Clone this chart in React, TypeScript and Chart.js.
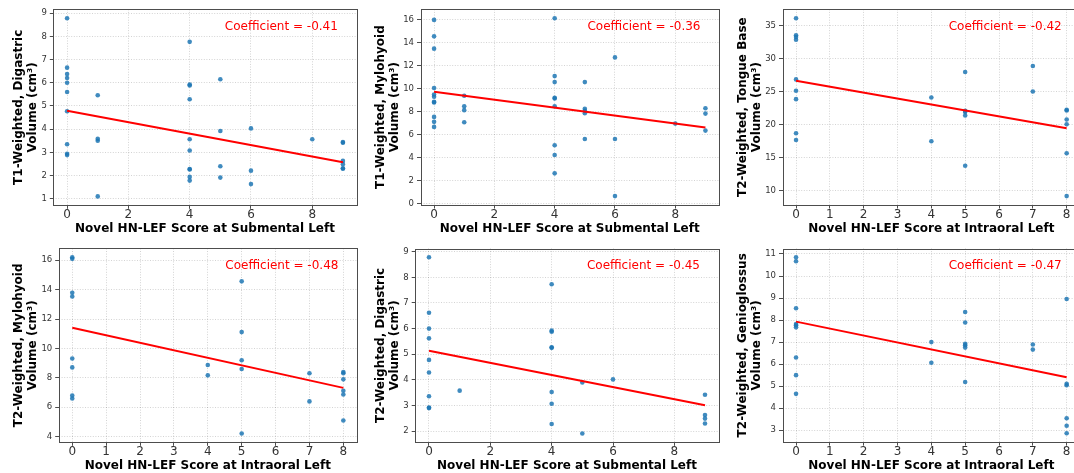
import React, { useEffect, useRef } from "react";
import { Chart, registerables } from "chart.js";

Chart.register(...registerables);

// ---------- Data ----------
// Panel 1: T1-weighted digastric vs submental-left score
const p1Scores = [0, 0, 0, 0, 0, 0, 0, 0, 0, 0, 1, 1, 1, 1, 4, 4, 4, 4, 4, 4, 4, 4, 4, 4, 5, 5, 5, 5, 6, 6, 6, 8, 9, 9, 9, 9, 9, 9];
const p1Volumes = [8.78, 6.65, 6.37, 6.2, 6.0, 5.6, 4.77, 3.35, 2.94, 2.88, 5.46, 3.58, 3.5, 1.1, 7.76, 5.92, 5.88, 5.29, 3.56, 3.08, 2.28, 2.26, 1.94, 1.78, 6.15, 3.92, 2.4, 1.91, 4.03, 2.21, 1.63, 3.56, 3.44, 3.41, 2.63, 2.49, 2.31, 2.29];

// Panel 2: T1-weighted mylohyoid vs submental-left score
const p2Scores = [0, 0, 0, 0, 0, 0, 0, 0, 0, 0, 0, 1, 1, 1, 1, 4, 4, 4, 4, 4, 4, 4, 4, 4, 5, 5, 5, 5, 5, 6, 6, 6, 8, 9, 9, 9];
const p2Volumes = [16.0, 14.57, 13.5, 10.07, 9.51, 9.31, 8.87, 8.81, 7.56, 7.13, 6.69, 9.4, 8.49, 8.15, 7.1, 16.15, 11.11, 10.59, 9.22, 9.16, 8.49, 5.09, 4.25, 2.65, 10.59, 8.26, 8.09, 7.88, 5.64, 12.74, 5.64, 0.67, 6.98, 8.32, 7.85, 6.37];

// Panel 3: T2-weighted tongue base vs intraoral-left score
const p3Scores = [0, 0, 0, 0, 0, 0, 0, 0, 0, 4, 4, 5, 5, 5, 5, 5, 7, 7, 8, 8, 8, 8, 8, 8];
const p3Volumes = [36.17, 33.58, 33.32, 32.9, 26.87, 25.14, 23.87, 18.69, 17.67, 24.13, 17.47, 27.99, 22.1, 21.9, 21.38, 13.76, 28.9, 25.04, 22.25, 22.15, 20.77, 20.06, 15.64, 9.14];

// Panel 4: T2-weighted mylohyoid vs intraoral-left score
const p4Scores = [0, 0, 0, 0, 0, 0, 0, 0, 4, 4, 5, 5, 5, 5, 5, 7, 7, 8, 8, 8, 8, 8, 8];
const p4Volumes = [16.2, 16.09, 13.78, 13.53, 9.32, 8.71, 6.8, 6.6, 8.87, 8.17, 14.56, 11.11, 9.2, 8.6, 4.22, 8.31, 6.4, 8.4, 8.31, 7.9, 7.12, 6.87, 5.1];

// Panel 5: T2-weighted digastric vs submental-left score
const p5Scores = [0, 0, 0, 0, 0, 0, 0, 0, 0, 1, 4, 4, 4, 4, 4, 4, 4, 4, 5, 5, 6, 9, 9, 9, 9];
const p5Volumes = [8.78, 6.62, 6.0, 5.62, 4.78, 4.29, 3.36, 2.92, 2.9, 3.58, 7.73, 5.92, 5.88, 5.27, 5.25, 3.53, 3.07, 2.28, 3.9, 1.91, 4.02, 3.42, 2.63, 2.49, 2.3];

// Panel 6: T2-weighted genioglossus vs intraoral-left score
const p6Scores = [0, 0, 0, 0, 0, 0, 0, 0, 0, 4, 4, 5, 5, 5, 5, 5, 5, 7, 7, 8, 8, 8, 8, 8, 8];
const p6Volumes = [10.85, 10.67, 8.54, 7.82, 7.76, 7.67, 6.3, 5.5, 4.65, 7.0, 6.06, 8.37, 7.89, 6.92, 6.86, 6.75, 5.19, 6.89, 6.66, 8.96, 5.11, 5.04, 3.54, 3.2, 2.86];

// Fitted regression line: value at score 0 and at the highest score
const fitStart = [4.79, 9.76, 26.65, 11.4, 5.14, 7.93];
const fitEnd = [2.57, 6.64, 19.45, 7.32, 3.01, 5.4];
const coefficients = ["-0.41", "-0.36", "-0.42", "-0.48", "-0.45", "-0.47"];

const yTitleTop = ["T1-Weighted, Digastric", "T1-Weighted, Mylohyoid", "T2-Weighted, Tongue Base", "T2-Weighted, Mylohyoid", "T2-Weighted, Digastric", "T2-Weighted, Genioglossus"];
const yTitleBottom = "Volume (cm³)";
const xTitles = ["Novel HN-LEF Score at Submental Left", "Novel HN-LEF Score at Submental Left", "Novel HN-LEF Score at Intraoral Left", "Novel HN-LEF Score at Intraoral Left", "Novel HN-LEF Score at Submental Left", "Novel HN-LEF Score at Intraoral Left"];
const xSteps = [2, 2, 1, 1, 2, 1];
const ySteps = [1, 2, 5, 2, 1, 1];

const allScores = [p1Scores, p2Scores, p3Scores, p4Scores, p5Scores, p6Scores];
const allVolumes = [p1Volumes, p2Volumes, p3Volumes, p4Volumes, p5Volumes, p6Volumes];

// ---------- Layout (canvas boxes and plot-area edges in page pixels) ----------
type Geo = { cl: number; ct: number; cw: number; ch: number; pl: number; pr: number; pt: number; pb: number; ytl: number };
const geos: Geo[] = [
  { cl: 0, ct: 0, cw: 362, ch: 237, pl: 53.3, pr: 356.7, pt: 9.3, pb: 205.3, ytl: 19 },
  { cl: 362, ct: 0, cw: 363, ch: 237, pl: 420.5, pr: 719, pt: 9.3, pb: 205, ytl: 380.8 },
  { cl: 725, ct: 0, cw: 365, ch: 237, pl: 782.5, pr: 1080.2, pt: 9.3, pb: 205, ytl: 742.5 },
  { cl: 0, ct: 237, cw: 362, ch: 236, pl: 58.7, pr: 356.9, pt: 248.4, pb: 442.3, ytl: 18.7 },
  { cl: 362, ct: 237, cw: 363, ch: 236, pl: 415.2, pr: 718.8, pt: 248.5, pb: 442.3, ytl: 380.8 },
  { cl: 725, ct: 237, cw: 365, ch: 236, pl: 782.5, pr: 1080.2, pt: 248.5, pb: 442.1, ytl: 742.5 },
];
const xTitleCenters = [229.3, 229.3, 229.3, 466, 466, 466];

const FONT = "DejaVu Sans";
const TITLE_LH = 14;

const framePlugin = {
  id: "frameAndNote",
  afterDatasetsDraw(chart: any, _args: any, opts: any) {
    const { ctx, chartArea: a } = chart;
    ctx.save();
    ctx.strokeStyle = "#4d4d4d";
    ctx.lineWidth = 1;
    ctx.strokeRect(Math.round(a.left) + 0.5, Math.round(a.top) + 0.5, Math.round(a.right) - Math.round(a.left), Math.round(a.bottom) - Math.round(a.top));
    ctx.fillStyle = "#ff0000";
    ctx.font = `12px "${FONT}"`;
    ctx.textAlign = "right";
    ctx.textBaseline = "middle";
    ctx.fillText(opts.text, a.left + 0.938 * (a.right - a.left), a.top + 0.09 * (a.bottom - a.top));
    ctx.restore();
  },
};

function pad5(lo: number, hi: number) {
  const r = hi - lo;
  return [lo - 0.05 * r, hi + 0.05 * r];
}

function Panel({ idx }: { idx: number }) {
  const ref = useRef<HTMLCanvasElement | null>(null);
  useEffect(() => {
    const g = geos[idx];
    const xs = allScores[idx];
    const ys = allVolumes[idx];
    const xMax = Math.max(...xs);
    const [xmin, xmax] = pad5(Math.min(...xs), xMax);
    const [ymin, ymax] = pad5(Math.min(...ys), Math.max(...ys));
    const grid = {
      color: "rgba(0,0,0,0.22)",
      lineWidth: 0.8,
      drawTicks: true,
      tickLength: 3.5,
      tickColor: "#4d4d4d",
      tickWidth: 1,
    };
    const chart = new Chart(ref.current as HTMLCanvasElement, {
      type: "scatter",
      data: {
        datasets: [
          {
            data: [
              { x: 0, y: fitStart[idx] },
              { x: xMax, y: fitEnd[idx] },
            ],
            showLine: true,
            borderColor: "#ff0000",
            borderWidth: 2,
            pointRadius: 0,
            order: 0,
          } as any,
          {
            data: xs.map((x, i) => ({ x, y: ys[i] })),
            backgroundColor: "rgba(31,119,180,0.85)",
            borderWidth: 0,
            pointRadius: 2.3,
            order: 1,
          },
        ],
      },
      options: {
        animation: false,
        responsive: false,
        devicePixelRatio: 1,
        events: [],
        layout: { padding: { left: 0, top: g.pt - g.ct, right: g.cl + g.cw - g.pr, bottom: 0 } },
        plugins: {
          legend: { display: false },
          tooltip: { enabled: false },
          frameAndNote: { text: `Coefficient = ${coefficients[idx]}` },
        } as any,
        scales: {
          x: {
            type: "linear",
            min: xmin,
            max: xmax,
            afterFit: (s: any) => {
              s.height = g.ct + g.ch - g.pb;
            },
            ticks: { stepSize: xSteps[idx], includeBounds: false, padding: 0, color: "#333", font: { family: FONT, size: 12, lineHeight: 1 } },
            grid,
            border: { display: false, dash: [1, 1.6] },
            title: {
              display: true,
              text: xTitles[idx],
              color: "#000",
              font: { family: FONT, size: 12, weight: "bold", lineHeight: TITLE_LH / 12 },
              padding: { top: 0, bottom: g.ct + g.ch - xTitleCenters[idx] - TITLE_LH / 2 },
            },
          },
          y: {
            type: "linear",
            min: ymin,
            max: ymax,
            afterFit: (s: any) => {
              s.width = g.pl - g.cl;
            },
            ticks: { stepSize: ySteps[idx], includeBounds: false, padding: 3, color: "#333", font: { family: FONT, size: 8.5 } },
            grid,
            border: { display: false, dash: [1, 1.6] },
            title: {
              display: true,
              text: [yTitleTop[idx], yTitleBottom],
              color: "#000",
              font: { family: FONT, size: 12, weight: "bold", lineHeight: TITLE_LH / 12 },
              padding: { top: g.ytl - g.cl - TITLE_LH / 2, bottom: 0 },
            },
          },
        },
      } as any,
      plugins: [framePlugin],
    });
    return () => chart.destroy();
  }, [idx]);
  const g = geos[idx];
  return (
    <div style={{ position: "absolute", left: g.cl, top: g.ct, width: g.cw, height: g.ch }}>
      <canvas ref={ref} width={g.cw} height={g.ch} style={{ width: g.cw, height: g.ch, display: "block" }} />
    </div>
  );
}

export default function App() {
  return (
    <div style={{ position: "fixed", left: 0, top: 0, width: 1074, height: 473, overflow: "hidden", background: "#fff" }}>
      {[0, 1, 2, 3, 4, 5].map((i) => (
        <Panel key={i} idx={i} />
      ))}
    </div>
  );
}
